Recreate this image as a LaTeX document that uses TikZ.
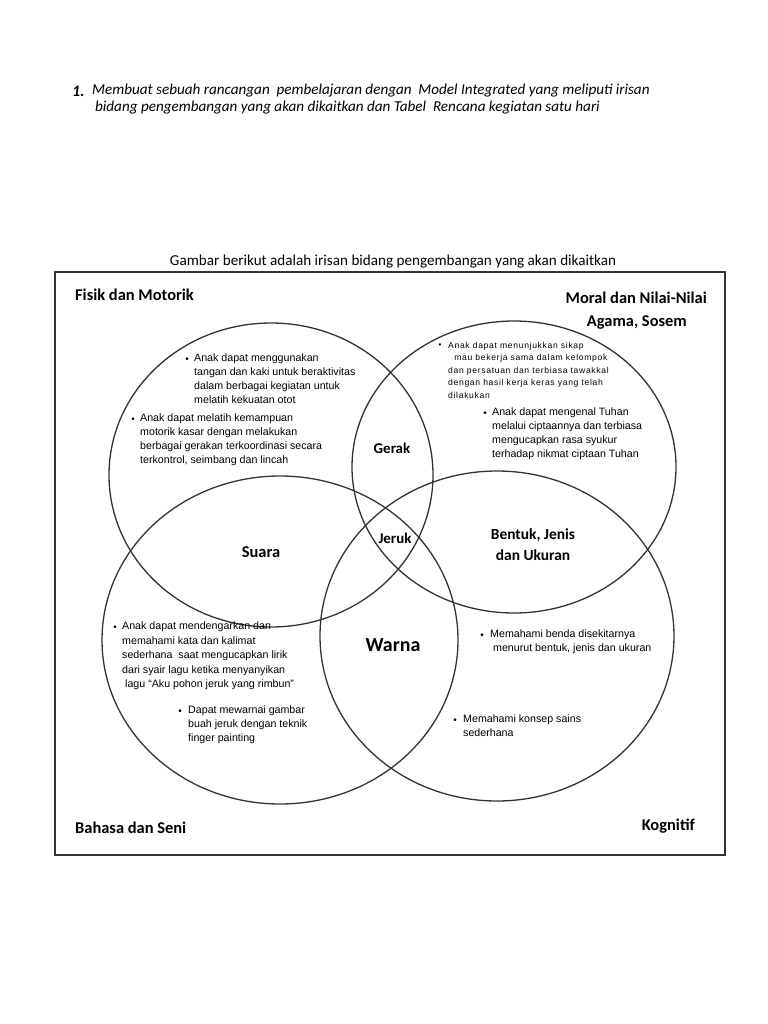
\documentclass[tikz,border=0pt]{standalone}
\usepackage{fontspec}
\setmainfont{Carlito}
\newfontfamily\arialf{Liberation Sans}
\newfontfamily\arialsp{Liberation Sans}[LetterSpace=8]
\begin{document}
\begin{tikzpicture}[x=1bp,y=-1bp,
  circ/.style={draw=black!80,line width=1.3bp},
  head/.style={font=\fontsize{16.5}{18}\selectfont\bfseries,inner sep=0},
  mid/.style={font=\fontsize{15}{17}\selectfont\bfseries,inner sep=0,align=center},
  small/.style={font=\arialf\fontsize{10.7}{14}\selectfont,inner sep=0,anchor=north west,align=left},
  tiny/.style={font=\arialsp\fontsize{8.6}{12.5}\selectfont,inner sep=0,anchor=north west,align=left},
  bul/.style={inner sep=0,font=\arialf\fontsize{10}{10}\selectfont}]
\useasboundingbox (0,0) rectangle (768,1024);
\fill[white] (0,0) rectangle (768,1024);
% header
\node[inner sep=0,anchor=west,font=\fontsize{16}{18}\selectfont\bfseries\itshape] (n1) at (72,91) {1.};
\node[inner sep=0,anchor=west,font=\fontsize{15.2}{17}\selectfont\itshape] (h1) at (92,91) {Membuat sebuah rancangan\ \ pembelajaran dengan\ \ Model Integrated yang meliputi irisan};
\node[inner sep=0,anchor=west,font=\fontsize{15.2}{17}\selectfont\itshape] (h2) at (95,108) {bidang pengembangan yang akan dikaitkan dan Tabel\ \ Rencana kegiatan satu hari};
\node[inner sep=0,font=\fontsize{15.2}{17}\selectfont] (cap) at (393,262) {Gambar berikut adalah irisan bidang pengembangan yang akan dikaitkan};
% frame
\draw[line width=1.2bp,black!80] (55,272) rectangle (725,855);
% circles
\draw[circ] (271,475) ellipse [x radius=162,y radius=152];
\draw[circ] (514,467) ellipse [x radius=162,y radius=146];
\draw[circ] (280,640) ellipse [x radius=178,y radius=164];
\draw[circ] (497,636) ellipse [x radius=177,y radius=165];
% corner labels
\node[head,anchor=west] (fm) at (75,295) {Fisik dan Motorik};
\node[head,anchor=east] (mn) at (707,298) {Moral dan Nilai-Nilai};
\node[head,anchor=east] (ag) at (687,322) {Agama, Sosem};
\node[head,anchor=west] (bs) at (75,828) {Bahasa dan Seni};
\node[head,anchor=east] (kg) at (695,826) {Kognitif};
% intersections
\node[mid] (gerak) at (392,448) {Gerak};
\node[mid,font=\fontsize{16.5}{18}\selectfont\bfseries] (suara) at (261,552) {Suara};
\node[mid] (jeruk) at (395,538) {Jeruk};
\node[mid,font=\fontsize{15.5}{21}\selectfont\bfseries] (bentuk) at (533,545) {Bentuk, Jenis\\dan Ukuran};
\node[mid,font=\fontsize{20}{22}\selectfont\bfseries] (warna) at (393,645) {Warna};
% text blocks
\node[bul] (b1) at (187,360) {\textbullet};
\node[small] (t1) at (194,354) {Anak dapat menggunakan\\tangan dan kaki untuk beraktivitas\\dalam berbagai kegiatan untuk\\melatih kekuatan otot};
\node[bul] (b2) at (133,420) {\textbullet};
\node[small] (t2) at (140,414) {Anak dapat melatih kemampuan\\motorik kasar dengan melakukan\\berbagai gerakan terkoordinasi secara\\terkontrol, seimbang dan lincah};
\node[bul,font=\arialf\fontsize{8}{8}\selectfont] (b3) at (440,346) {\textbullet};
\node[tiny] (t3) at (448,342) {Anak dapat menunjukkan sikap\\\ \ mau bekerja sama dalam kelompok\\dan persatuan dan terbiasa tawakkal\\dengan hasil kerja keras yang telah\\dilakukan};
\node[bul] (b4) at (485,414) {\textbullet};
\node[small] (t4) at (492,408) {Anak dapat mengenal Tuhan\\melalui ciptaannya dan terbiasa\\mengucapkan rasa syukur\\terhadap nikmat ciptaan Tuhan};
\node[bul] (b5) at (115,628) {\textbullet};
\node[small,font=\arialf\fontsize{10.7}{14.5}\selectfont] (t5) at (122,622) {Anak dapat mendengarkan dan\\memahami kata dan kalimat\\sederhana\ \ saat mengucapkan lirik\\dari syair lagu ketika menyanyikan\\\ lagu “Aku pohon jeruk yang rimbun”};
\node[bul] (b6) at (180,712) {\textbullet};
\node[small] (t6) at (188,706) {Dapat mewarnai gambar\\buah jeruk dengan teknik\\finger painting};
\node[bul] (b7) at (482,636) {\textbullet};
\node[small] (t7) at (490,630) {Memahami benda disekitarnya\\\ menurut bentuk, jenis dan ukuran};
\node[bul] (b8) at (455,721) {\textbullet};
\node[small] (t8) at (463,715) {Memahami konsep sains\\sederhana};
\end{tikzpicture}
\end{document}
